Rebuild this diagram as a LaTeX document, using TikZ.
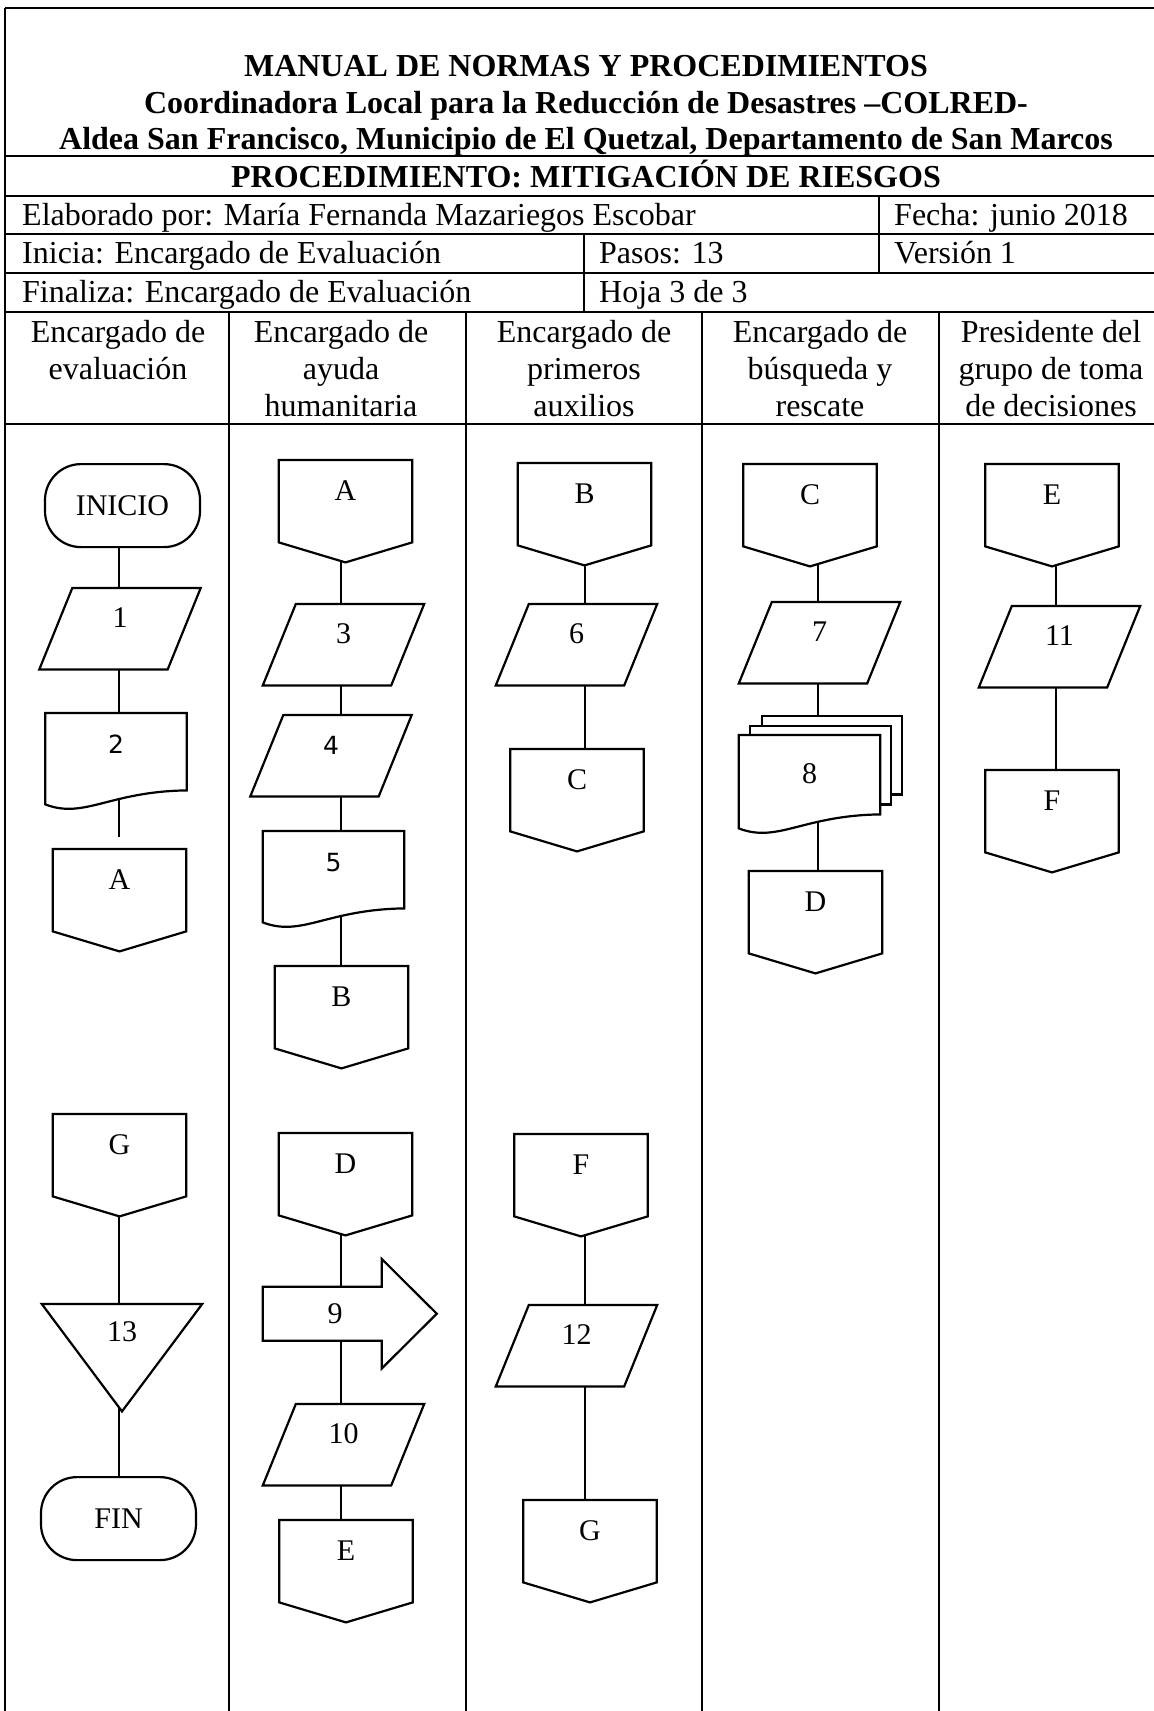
\documentclass[tikz,border=0pt]{standalone}
\usepackage{fontspec}
\setmainfont{Liberation Serif}
\newfontfamily\sansdig{DejaVu Sans}
\usepackage{tikz}
\usetikzlibrary{backgrounds}

\begin{document}
\begin{tikzpicture}[
  x=1pt, y=-1pt,
  font=\fontsize{32}{37}\selectfont,
  hdr/.style={font=\fontsize{32}{38}\selectfont\bfseries, anchor=base, inner sep=0pt},
  cell/.style={anchor=base west, inner sep=0pt},
  lanehd/.style={align=center, anchor=north, inner sep=0pt},
  rule/.style={line width=1.4pt},
  shp/.style={draw, fill=white, line width=2.2pt, line join=miter},
  conn/.style={line width=1.1pt},
  txt/.style={font=\fontsize{30}{36}\selectfont, inner sep=0pt, anchor=north, text height=20pt},
  term/.style={txt, draw, fill=white, line width=2.2pt, rounded corners=36pt, minimum width=155pt, minimum height=83pt, text depth=0pt},
  offpage/.style={txt, minimum width=133pt, minimum height=102pt, text depth=42pt},
  io/.style={txt, minimum width=161pt, minimum height=81pt, text depth=22pt},
  docu/.style={txt, minimum width=141pt, minimum height=91pt, text depth=31pt},
  merge/.style={txt, minimum width=160pt, minimum height=107pt, text depth=52pt},
  blockarrow/.style={txt, minimum width=144pt, minimum height=109pt, text depth=0pt},
]
\useasboundingbox (0,0) rectangle (1154,1711);

% ── form frame ────────────────────────────────────────────────────────────
\draw[rule] (5,8) -- (1154,8);
\draw[rule] (5,8) -- (5,1711);
\foreach \y in {156,196,234,273,312,424}
  \draw[rule] (5,\y) -- (1154,\y);
\draw[rule] (879,196) -- (879,273);
\draw[rule] (584,234) -- (584,312);
\foreach \x in {229,466,702,939}
  \draw[rule] (\x,312) -- (\x,1711);

% ── heading ───────────────────────────────────────────────────────────────
\node[hdr] (t1) at (586,76) {MANUAL DE NORMAS Y PROCEDIMIENTOS};
\node[hdr] (t2) at (586,113) {Coordinadora Local para la Reducción de Desastres –COLRED-};
\node[hdr] (t3) at (586,149) {Aldea San Francisco, Municipio de El Quetzal, Departamento de San Marcos};
\node[hdr] (t4) at (586,187) {PROCEDIMIENTO: MITIGACIÓN DE RIESGOS};

\node[cell] (elab) at (22,225) {Elaborado por: María Fernanda Mazariegos Escobar};
\node[cell] (fecha) at (894,225) {Fecha: junio 2018};
\node[cell] (inicia) at (22,263) {Inicia: Encargado de Evaluación};
\node[cell] (pasos) at (599,263) {Pasos: 13};
\node[cell] (vers) at (894,263) {Versión 1};
\node[cell] (finaliza) at (22,302) {Finaliza: Encargado de Evaluación};
\node[cell] (hoja) at (599,302) {Hoja 3 de 3};

% ── lane headers ──────────────────────────────────────────────────────────
\node[lanehd] (h1) at (118,320) {Encargado de\\evaluación};
\node[lanehd] (h2) at (341,320) {Encargado de\\ayuda\\humanitaria};
\node[lanehd] (h3) at (584,320) {Encargado de\\primeros\\auxilios};
\node[lanehd] (h4) at (820,320) {Encargado de\\búsqueda y\\rescate};
\node[lanehd] (h5) at (1051,320) {Presidente del\\grupo de toma\\de decisiones};

\coordinate (ax1) at (119,0);
\coordinate (ax2) at (341,0);
\coordinate (ax3) at (585,0);
\coordinate (ax4) at (818,0);
\coordinate (ax5) at (1056,0);

% ── lane 1: evaluación ────────────────────────────────────────────────────
\node[term] (ini) at (122.5,463) {INICIO};
\node[io] (s1) at (120,588) {1};
\node[docu] (s2) at (116,713) {\sansdig\fontsize{25}{30}\selectfont 2};
\node[offpage] (cA1) at (119.5,849) {A};
\node[offpage] (cG1) at (119.5,1114) {G};
\node[merge] (s13) at (122,1304) {13};
\node[term] (fin) at (118.5,1476) {FIN};

% ── lane 2: ayuda humanitaria ─────────────────────────────────────────────
\node[offpage] (cA2) at (345.5,460) {A};
\node[io] (s3) at (343.5,604) {3};
\node[io] (s4) at (331,715) {\sansdig\fontsize{25}{30}\selectfont 4};
\node[docu] (s5) at (333.5,831) {\sansdig\fontsize{25}{30}\selectfont 5};
\node[offpage] (cB2) at (341.5,966) {B};
\node[offpage] (cD2) at (345.5,1133) {D};
\node[blockarrow] (s9) at (335,1259) {9};
\node[io] (s10) at (343.5,1404) {10};
\node[offpage] (cE2) at (346,1520) {E};

% ── lane 3: primeros auxilios ─────────────────────────────────────────────
\node[offpage] (cB3) at (584.5,463) {B};
\node[io] (s6) at (576.5,604) {6};
\node[offpage] (cC3) at (577,749) {C};
\node[offpage] (cF3) at (581,1134) {F};
\node[io] (s12) at (576.5,1305) {12};
\node[offpage] (cG3) at (590,1500) {G};

% ── lane 4: búsqueda y rescate ────────────────────────────────────────────
\node[offpage] (cC4) at (810,464) {C};
\node[io] (s7) at (819.5,602) {7};
\node[docu, minimum height=93pt, text depth=17pt] (s8) at (809.5,735) {8};
\node[offpage] (cD4) at (815.5,871) {D};

% ── lane 5: toma de decisiones ────────────────────────────────────────────
\node[offpage] (cE5) at (1052,464) {E};
\node[io] (s11) at (1059.5,606) {11};
\node[offpage] (cF5) at (1052,770) {F};

% ── connectors and outlines ───────────────────────────────────────────────
\begin{scope}[on background layer]
  \foreach \a/\b/\c in {ini/s1/ax1, s1/s2/ax1, cG1/s13/ax1, s13/fin/ax1,
      cA2/s3/ax2, s3/s4/ax2, s4/s5/ax2, s5/cB2/ax2, cD2/s9/ax2, s9/s10/ax2, s10/cE2/ax2,
      cB3/s6/ax3, s6/cC3/ax3, cF3/s12/ax3, s12/cG3/ax3,
      cC4/s7/ax4, s7/s8/ax4, s8/cD4/ax4,
      cE5/s11/ax5, s11/cF5/ax5}
    \draw[conn] (\a.center -| \c) -- (\b.center -| \c);
  \draw[conn, shorten >=12pt] (s2.center -| ax1) -- (cA1.north -| ax1);

  % off-page connectors
  \foreach \n in {cA1,cG1,cA2,cB2,cD2,cE2,cB3,cC3,cF3,cG3,cC4,cD4,cE5,cF5}
    \draw[shp] (\n.north west) -- (\n.north east) -- ([shift={(0,-20)}]\n.south east)
      -- (\n.south) -- ([shift={(0,-20)}]\n.south west) -- cycle;
  % data
  \foreach \n in {s1,s3,s4,s6,s7,s10,s11,s12}
    \draw[shp] ([shift={(33,0)}]\n.north west) -- (\n.north east)
      -- ([shift={(-33,0)}]\n.south east) -- (\n.south west) -- cycle;
  % stacked pages behind 8
  \draw[shp] ([shift={(23,-19)}]s8.north west) rectangle ([shift={(22,-34)}]s8.south east);
  \draw[shp] ([shift={(11,-9)}]s8.north west) rectangle ([shift={(11,-24)}]s8.south east);
  % documents
  \foreach \n in {s2,s5,s8}
    \draw[shp] (\n.south west) -- (\n.north west) -- (\n.north east)
      -- ([shift={(0,-14)}]\n.south east)
      .. controls ([shift={(64,-13)}]\n.south west) and ([shift={(39,15)}]\n.south west)
      .. (\n.south west) -- cycle;
  % merge
  \draw[shp] (s13.north west) -- (s13.north east) -- (s13.south) -- cycle;
  % block arrow
  \draw[shp] ([shift={(0,-27)}]s9.west) -- ([shift={(119,-27)}]s9.west)
    -- ([shift={(119,0)}]s9.north west) -- ([shift={(174,0)}]s9.west)
    -- ([shift={(119,0)}]s9.south west) -- ([shift={(119,27)}]s9.west)
    -- ([shift={(0,27)}]s9.west) -- cycle;
\end{scope}
\end{tikzpicture}
\end{document}
